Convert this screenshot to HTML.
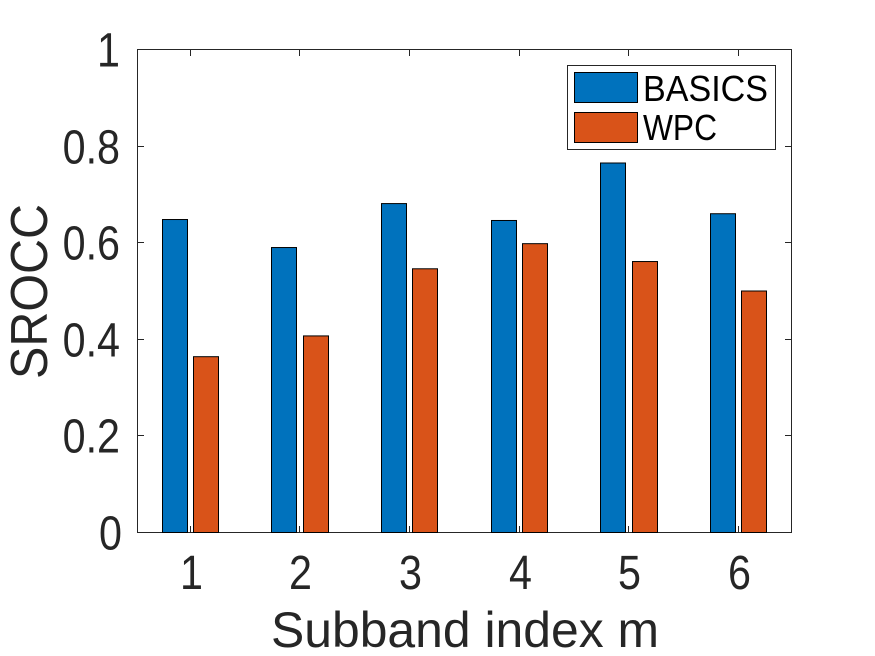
<!DOCTYPE html>
<html>
<head>
<meta charset="utf-8">
<style>
html,body{margin:0;padding:0;background:#fff;width:875px;height:656px;overflow:hidden}
svg{display:block}
text{font-family:"Liberation Sans",sans-serif}
</style>
</head>
<body>
<svg id="chart" width="875" height="656" viewBox="0 0 875 656" xmlns="http://www.w3.org/2000/svg"></svg>
<script>
const categories = [1, 2, 3, 4, 5, 6];
const basicsValues = [0.648, 0.590, 0.681, 0.646, 0.765, 0.660];
const wpcValues = [0.364, 0.407, 0.546, 0.598, 0.561, 0.500];
const yTickLabels = ['0', '0.2', '0.4', '0.6', '0.8', '1'];
const yTickValues = [0, 0.2, 0.4, 0.6, 0.8, 1];
const seriesNames = ['BASICS', 'WPC'];

const NS = 'http://www.w3.org/2000/svg';
const svg = document.getElementById('chart');
const L = 137.5, R = 791.5, T = 49.5, B = 532.5;
const xScale = c => 190.7 + (c - 1) * 109.6;
const xTick = c => Math.floor(190.2 + (c - 1) * 109.65) + 0.5;
const yScale = v => B - v * (B - T);
const BLUE = '#0072BD', ORANGE = '#D95319', INK = '#262626';

function make(tag, attrs) {
  const el = document.createElementNS(NS, tag);
  for (const k in attrs) el.setAttribute(k, attrs[k]);
  return el;
}

// axes frame
const frame = make('rect', {x: L, y: T, width: R - L, height: B - T, fill: '#fff', stroke: INK, 'stroke-width': 1});


svg.appendChild(frame);

// bars
function drawBar(cat, val, offset, color, name) {
  const x = Math.round(xScale(cat) + offset) + 0.5;
  const y = yScale(val);
  const r = make('rect', {x: x, y: y, width: 25, height: B - y, fill: color, stroke: '#000', 'stroke-width': 1});
  
  
  svg.appendChild(r);
}
categories.forEach((c, i) => {
  drawBar(c, basicsValues[i], -29, BLUE, 'bar-basics-' + c);
  drawBar(c, wpcValues[i], 2.5, ORANGE, 'bar-wpc-' + c);
});

// x ticks
categories.forEach(c => {
  const x = xTick(c);
  const t1 = make('line', {x1: x, x2: x, y1: B, y2: B - 6.5, stroke: INK, 'stroke-width': 1});
  
  
  svg.appendChild(t1);
  const t2 = make('line', {x1: x, x2: x, y1: T, y2: T + 6.5, stroke: INK, 'stroke-width': 1});
  
  
  svg.appendChild(t2);
  const lab = make('text', {'text-anchor': 'middle', 'font-size': 48, fill: INK, transform: 'translate(' + (x + 1) + ',589) scale(.86,1)'});
  
  
  lab.textContent = c;
  svg.appendChild(lab);
});

// y ticks
yTickValues.forEach((v, i) => {
  const y = Math.round(yScale(v) - 0.5) + 0.5;
  const t1 = make('line', {x1: L, x2: L + 6.5, y1: y, y2: y, stroke: INK, 'stroke-width': 1});
  
  
  svg.appendChild(t1);
  const t2 = make('line', {x1: R, x2: R - 6.5, y1: y, y2: y, stroke: INK, 'stroke-width': 1});
  
  
  svg.appendChild(t2);
  const labelX = v === 0 ? 122 : 120;
  const lab = make('text', {'text-anchor': 'end', 'font-size': 48, fill: INK, transform: 'translate(' + labelX + ',' + (y + 17) + ') scale(.86,1)'});
  
  
  lab.textContent = yTickLabels[i];
  svg.appendChild(lab);
});

// axis titles
const xTitle = make('text', {x: 271, y: 647, 'font-size': 50, fill: INK, textLength: 388, lengthAdjust: 'spacingAndGlyphs'});


xTitle.textContent = 'Subband index m';
svg.appendChild(xTitle);

const yTitle = make('text', {x: -87.5, y: 0, 'font-size': 52, fill: INK, textLength: 175, lengthAdjust: 'spacingAndGlyphs', transform: 'translate(47,291.5) rotate(-90)'});


yTitle.textContent = 'SROCC';
svg.appendChild(yTitle);

// legend
const legend = make('g', {});


svg.appendChild(legend);
const box = make('rect', {x: 567.5, y: 65.5, width: 208, height: 84, fill: '#fff', stroke: INK, 'stroke-width': 1});


legend.appendChild(box);
[[BLUE, 72.5, 101, 125], [ORANGE, 112.5, 140, 74]].forEach((row, i) => {
  const sw = make('rect', {x: 574.5, y: row[1], width: 63, height: 30, fill: row[0], stroke: '#000', 'stroke-width': 1});
  
  
  legend.appendChild(sw);
  const tx = make('text', {x: 643, y: row[2], 'font-size': 36, fill: '#000', textLength: row[3], lengthAdjust: 'spacingAndGlyphs'});
  
  
  tx.textContent = seriesNames[i];
  legend.appendChild(tx);
});
</script>
</body>
</html>
